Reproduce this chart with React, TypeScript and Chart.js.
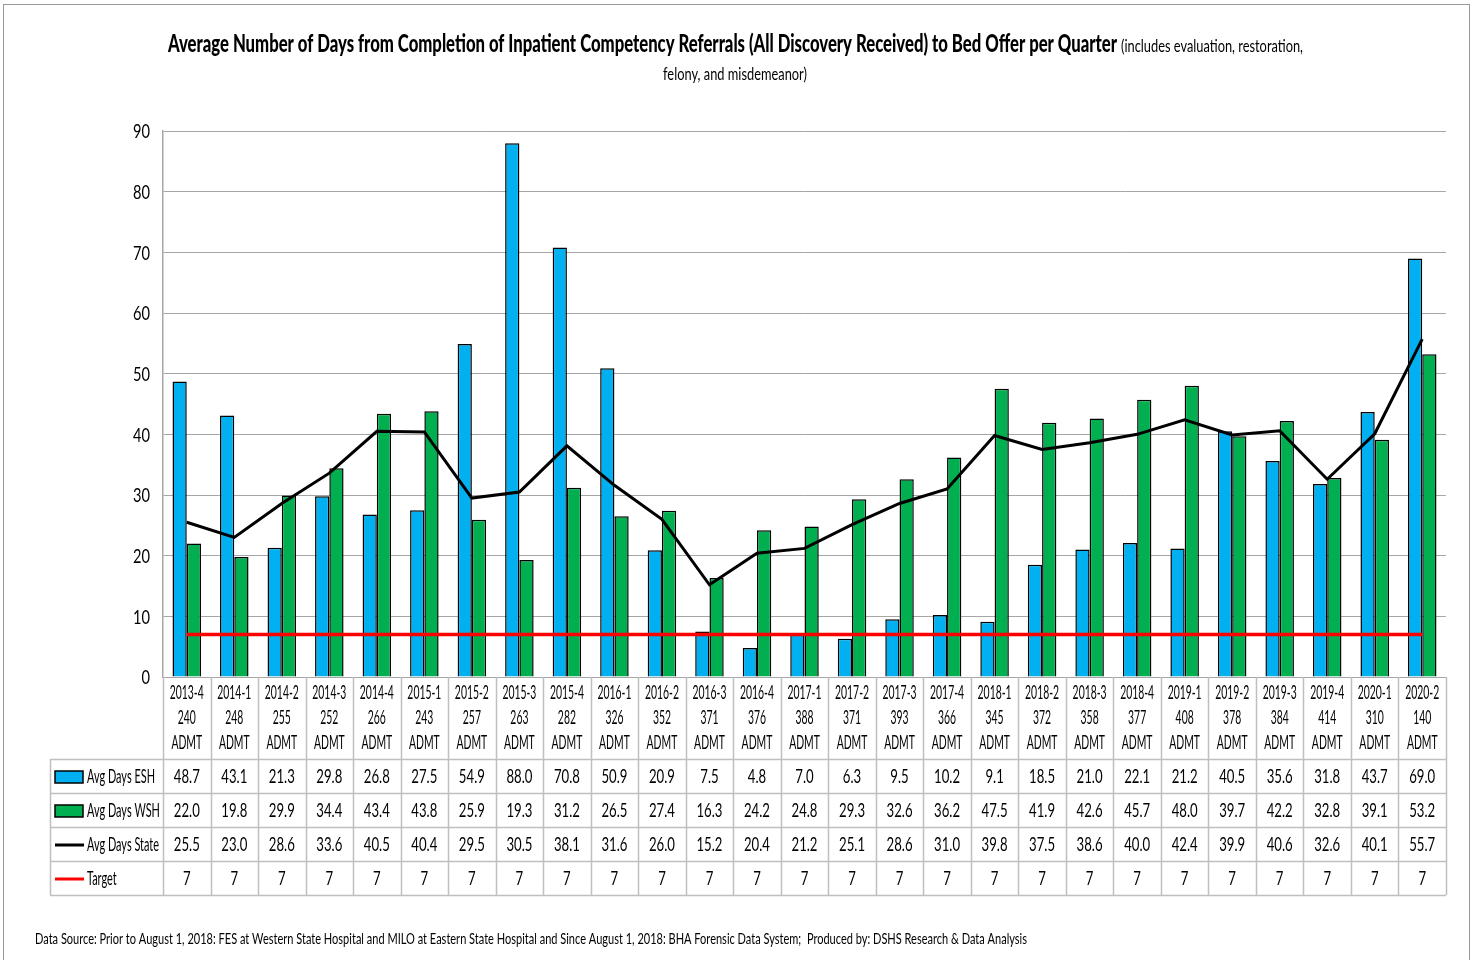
import React, { useEffect, useRef } from "react";
import { Chart, registerables } from "chart.js";

Chart.register(...registerables);

const quarters = ["2013-4","2014-1","2014-2","2014-3","2014-4","2015-1","2015-2","2015-3","2015-4","2016-1","2016-2","2016-3","2016-4","2017-1","2017-2","2017-3","2017-4","2018-1","2018-2","2018-3","2018-4","2019-1","2019-2","2019-3","2019-4","2020-1","2020-2"];
const admissions = ["240","248","255","252","266","243","257","263","282","326","352","371","376","388","371","393","366","345","372","358","377","408","378","384","414","310","140"];
const eshDays = [48.7,43.1,21.3,29.8,26.8,27.5,54.9,88.0,70.8,50.9,20.9,7.5,4.8,7.0,6.3,9.5,10.2,9.1,18.5,21.0,22.1,21.2,40.5,35.6,31.8,43.7,69.0];
const wshDays = [22.0,19.8,29.9,34.4,43.4,43.8,25.9,19.3,31.2,26.5,27.4,16.3,24.2,24.8,29.3,32.6,36.2,47.5,41.9,42.6,45.7,48.0,39.7,42.2,32.8,39.1,53.2];
const stateDays = [25.5,23.0,28.6,33.6,40.5,40.4,29.5,30.5,38.1,31.6,26.0,15.2,20.4,21.2,25.1,28.6,31.0,39.8,37.5,38.6,40.0,42.4,39.9,40.6,32.6,40.1,55.7];
const targetDays = [7,7,7,7,7,7,7,7,7,7,7,7,7,7,7,7,7,7,7,7,7,7,7,7,7,7,7];
const yTickValues = [0,10,20,30,40,50,60,70,80,90];
const seriesNames = ["Avg Days ESH", "Avg Days WSH", "Avg Days State", "Target"];
const titleMain = "Average Number of Days from Completion of Inpatient Competency Referrals (All Discovery Received) to Bed Offer per Quarter";
const titleNote1 = "(includes evaluation, restoration,";
const titleNote2 = "felony, and misdemeanor)";
const footerText = "Data Source: Prior to August 1, 2018: FES at Western State Hospital and MILO at Eastern State Hospital and Since August 1, 2018: BHA Forensic Data System;  Produced by: DSHS Research & Data Analysis";

const FONT = 'Lato, "Open Sans", sans-serif';
const ESH_COLOR = "#00B0F0";
const WSH_COLOR = "#00B050";
const STATE_COLOR = "#000000";
const TARGET_COLOR = "#FF0000";
const GRID = "#a6a6a6";
const TABLE_LINE = "#bfbfbf";

// draw horizontally condensed text
function squeezeText(ctx: CanvasRenderingContext2D, text: string, x: number, y: number, sx: number, align: CanvasTextAlign) {
  ctx.save();
  ctx.translate(x, y);
  ctx.scale(sx, 1);
  ctx.textAlign = align;
  ctx.fillText(text, 0, 0);
  ctx.restore();
}
function scaleFor(ctx: CanvasRenderingContext2D, font: string, sample: string, target: number) {
  ctx.font = font;
  return target / ctx.measureText(sample).width;
}

const tablePlugin = {
  id: "dataTable",
  afterDraw(chart: any) {
    const ctx: CanvasRenderingContext2D = chart.ctx;
    const ca = chart.chartArea;
    const xs = chart.scales.x;
    const ys = chart.scales.y;
    const n = quarters.length;
    const w = (ca.right - ca.left) / n;
    const rowTops = [759, 793, 827, 861, 895];
    const tableLeft = 50;
    ctx.save();
    ctx.strokeStyle = TABLE_LINE;
    ctx.lineWidth = 1.5;
    for (let i = 0; i <= n; i++) {
      const x = Math.round(ca.left + i * w) + 0.5;
      ctx.beginPath();
      ctx.moveTo(x, ca.bottom);
      ctx.lineTo(x, rowTops[4]);
      ctx.stroke();
    }
    ctx.beginPath();
    ctx.moveTo(tableLeft + 0.5, rowTops[0]);
    ctx.lineTo(tableLeft + 0.5, rowTops[4]);
    ctx.stroke();
    rowTops.forEach((y) => {
      ctx.beginPath();
      ctx.moveTo(tableLeft, y + 0.5);
      ctx.lineTo(ca.right, y + 0.5);
      ctx.stroke();
    });

    ctx.fillStyle = "#000";
    ctx.textBaseline = "middle";

    // y tick labels
    const tickFont = `20px ${FONT}`;
    const sxTick = scaleFor(ctx, tickFont, "90", 17);
    ctx.font = tickFont;
    yTickValues.forEach((v) => {
      squeezeText(ctx, String(v), 150, ys.getPixelForValue(v) + 1, sxTick, "right");
    });

    // category labels
    const catFont = `19px ${FONT}`;
    const sxCat = scaleFor(ctx, catFont, "2013-4", 34);
    ctx.font = catFont;
    for (let i = 0; i < n; i++) {
      const cx = xs.getPixelForValue(i);
      squeezeText(ctx, quarters[i], cx, 693, sxCat, "center");
      squeezeText(ctx, admissions[i], cx, 718, sxCat, "center");
      squeezeText(ctx, "ADMT", cx, 743, sxCat, "center");
    }
    // table values
    const valFont = `19px ${FONT}`;
    const sxVal = scaleFor(ctx, valFont, "48.7", 26);
    ctx.font = valFont;
    const rows = [eshDays, wshDays, stateDays, targetDays];
    rows.forEach((vals, r) => {
      const cy = (rowTops[r] + rowTops[r + 1]) / 2 + 1;
      for (let i = 0; i < n; i++) {
        const cx = xs.getPixelForValue(i);
        const v = vals[i];
        squeezeText(ctx, r === 3 ? String(v) : v.toFixed(1), cx, cy, sxVal, "center");
      }
    });
    // legend keys
    const legFont = `19px ${FONT}`;
    const sxLeg = scaleFor(ctx, legFont, "Avg Days State", 72);
    const keyColors = [ESH_COLOR, WSH_COLOR, STATE_COLOR, TARGET_COLOR];
    seriesNames.forEach((name, r) => {
      const cy = (rowTops[r] + rowTops[r + 1]) / 2 + 1;
      if (r < 2) {
        ctx.fillStyle = keyColors[r];
        ctx.fillRect(55, cy - 6, 28, 12);
        ctx.strokeStyle = "#000";
        ctx.lineWidth = 1.5;
        ctx.strokeRect(55, cy - 6, 28, 12);
      } else {
        ctx.strokeStyle = keyColors[r];
        ctx.lineWidth = 3;
        ctx.beginPath();
        ctx.moveTo(55, cy);
        ctx.lineTo(84, cy);
        ctx.stroke();
      }
      ctx.fillStyle = "#000";
      ctx.font = legFont;
      squeezeText(ctx, name, 87, cy, sxLeg, "left");
    });

    // title
    ctx.textBaseline = "alphabetic";
    const tFont = `900 24px ${FONT}`;
    const sxT = scaleFor(ctx, tFont, titleMain, 949);
    ctx.font = tFont;
    squeezeText(ctx, titleMain, 168, 52, sxT, "left");
    const nFont = `17px ${FONT}`;
    const sxN = scaleFor(ctx, nFont, titleNote1, 182);
    ctx.font = nFont;
    squeezeText(ctx, titleNote1, 1121, 52, sxN, "left");
    squeezeText(ctx, titleNote2, 735, 80, sxN, "center");

    // footer
    const fFont = `16px ${FONT}`;
    const sxF = scaleFor(ctx, fFont, footerText, 992);
    ctx.font = fFont;
    squeezeText(ctx, footerText, 35, 944, sxF, "left");
    ctx.restore();
  },
};

export default function App() {
  const ref = useRef<HTMLCanvasElement | null>(null);
  useEffect(() => {
    document.body.style.margin = "0";
    if (!ref.current) return;
    const chart = new Chart(ref.current, {
      type: "bar",
      data: {
        labels: quarters,
        datasets: [
          {
            type: "line",
            label: seriesNames[2],
            data: stateDays,
            borderColor: STATE_COLOR,
            borderWidth: 3,
            pointRadius: 0,
            fill: false,
            tension: 0,
            order: 0,
          },
          {
            type: "line",
            label: seriesNames[3],
            data: targetDays,
            borderColor: TARGET_COLOR,
            borderWidth: 3.5,
            pointRadius: 0,
            fill: false,
            order: 0,
          },
          {
            type: "bar",
            label: seriesNames[0],
            data: eshDays,
            backgroundColor: ESH_COLOR,
            borderColor: "#000",
            borderWidth: 1.5,
            categoryPercentage: 0.6,
            barPercentage: 1,
            order: 1,
          },
          {
            type: "bar",
            label: seriesNames[1],
            data: wshDays,
            backgroundColor: WSH_COLOR,
            borderColor: "#000",
            borderWidth: 1.5,
            categoryPercentage: 0.6,
            barPercentage: 1,
            order: 1,
          },
        ] as any,
      },
      options: {
        animation: false,
        responsive: false,
        maintainAspectRatio: false,
        layout: { padding: { top: 131, right: 27, bottom: 283, left: 0 } },
        plugins: { legend: { display: false }, tooltip: { enabled: false } },
        scales: {
          x: { display: false, offset: true },
          y: {
            min: 0,
            max: 90,
            ticks: { stepSize: 10, display: false },
            grid: { color: GRID, lineWidth: 1, drawTicks: false },
            border: { display: true, color: GRID, width: 1.5 },
            afterFit: (scale: any) => {
              scale.width = 163;
            },
          },
        },
      },
      plugins: [tablePlugin],
    });
    return () => chart.destroy();
  }, []);

  return (
    <div style={{ position: "relative", width: 1473, height: 960, background: "#fff", overflow: "hidden" }}>
      <div style={{ position: "absolute", left: 3, top: 4, width: 1467, height: 1000, border: "1.5px solid #999", boxSizing: "border-box" }} />
      <canvas ref={ref} width={1473} height={960} style={{ position: "absolute", left: 0, top: 0 }} />
    </div>
  );
}
